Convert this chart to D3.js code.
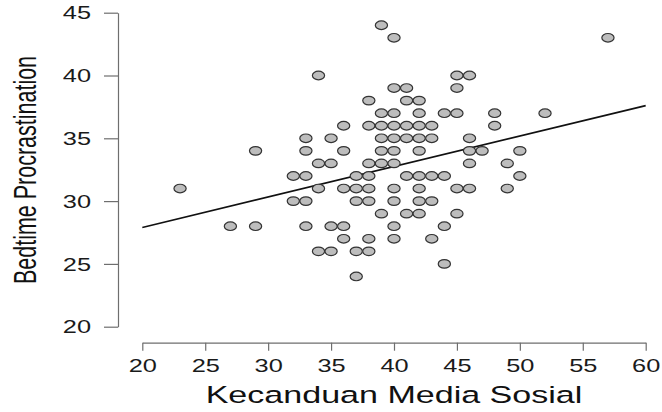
<!DOCTYPE html>
<html>
<head>
<meta charset="utf-8">
<script src="https://cdn.jsdelivr.net/npm/d3@7"></script>
<style>
  html, body { margin: 0; padding: 0; background: #ffffff; }
  svg { display: block; }
  text { font-family: "Liberation Sans", Arial, Helvetica, sans-serif; }
</style>
</head>
<body>
<svg id="chart" width="662" height="412"></svg>
<script>
// ---- data ----
const kecanduan = [
  39,
  40, 57,
  34, 45, 46,
  40, 41, 45,
  38, 41, 42,
  39, 40, 42, 44, 45, 48, 52,
  36, 38, 39, 40, 41, 42, 43, 48,
  33, 35, 39, 40, 41, 42, 43, 46,
  29, 33, 36, 39, 40, 42, 46, 47, 50,
  34, 35, 38, 39, 40, 46, 49,
  32, 33, 37, 38, 41, 42, 43, 44, 50,
  23, 34, 36, 37, 38, 40, 42, 45, 46, 49,
  32, 33, 37, 38, 40, 42, 43,
  39, 41, 42, 45,
  27, 29, 33, 35, 36, 40, 44,
  36, 38, 40, 43,
  34, 35, 37, 38,
  44,
  37
];
const bedtime = [
  44,
  43, 43,
  40, 40, 40,
  39, 39, 39,
  38, 38, 38,
  37, 37, 37, 37, 37, 37, 37,
  36, 36, 36, 36, 36, 36, 36, 36,
  35, 35, 35, 35, 35, 35, 35, 35,
  34, 34, 34, 34, 34, 34, 34, 34, 34,
  33, 33, 33, 33, 33, 33, 33,
  32, 32, 32, 32, 32, 32, 32, 32, 32,
  31, 31, 31, 31, 31, 31, 31, 31, 31, 31,
  30, 30, 30, 30, 30, 30, 30,
  29, 29, 29, 29,
  28, 28, 28, 28, 28, 28, 28,
  27, 27, 27, 27,
  26, 26, 26, 26,
  25,
  24
];
const fitX = [20, 60];
const fitY = [27.9, 37.6];
const xTicks = [20, 25, 30, 35, 40, 45, 50, 55, 60];
const yTicks = [20, 25, 30, 35, 40, 45];
const xTitle = "Kecanduan Media Sosial";
const yTitle = "Bedtime Procrastination";

// ---- drawing ----
const SX = 1.45; // horizontal stretch seen in the reference text/markers
const svg = d3.select("#chart");
const x = d3.scaleLinear().domain([20, 60]).range([142.3, 645.7]);
const y = d3.scaleLinear().domain([20, 45]).range([326.7, 12.7]);

const axisColor = "#6e6e6e";
const FONT = '"Liberation Sans", Arial, Helvetica, sans-serif';

// x axis
const gx = svg.append("g").attr("transform", "translate(0,342.7)")
  .call(d3.axisBottom(x).tickValues(xTicks).tickSizeOuter(0).tickSizeInner(8).tickFormat(d3.format("d")));
gx.select(".domain").attr("stroke", axisColor).attr("stroke-width", 1.2);
gx.selectAll(".tick line").attr("stroke", axisColor).attr("stroke-width", 1.2);
gx.selectAll(".tick text")
  .attr("y", 0).attr("dy", 0)
  .attr("transform", `translate(0,29.5) scale(${SX},1)`)
  .attr("font-size", 17.5).attr("fill", "#1a1a1a");

// y axis
const gy = svg.append("g").attr("transform", "translate(118,0)")
  .call(d3.axisLeft(y).tickValues(yTicks).tickSizeOuter(0).tickSizeInner(14).tickFormat(d3.format("d")));
gy.select(".domain").attr("stroke", axisColor).attr("stroke-width", 1.2);
gy.selectAll(".tick line").attr("stroke", axisColor).attr("stroke-width", 1.2);
gy.selectAll(".tick text")
  .attr("x", 0).attr("dy", "0.35em")
  .attr("transform", `translate(-27,0) scale(${SX},1)`)
  .attr("font-size", 17.5).attr("fill", "#1a1a1a");
svg.selectAll(".tick text").attr("font-family", FONT);

// regression line
const pts = fitX.map((d, i) => [d, fitY[i]]);
svg.append("path")
  .attr("d", d3.line().x(d => x(d[0])).y(d => y(d[1]))(pts))
  .attr("fill", "none").attr("stroke", "#111").attr("stroke-width", 1.7);

// points
const data = kecanduan.map((d, i) => ({ x: d, y: bedtime[i] }));
svg.append("g").selectAll("ellipse").data(data).join("ellipse")
  .attr("cx", d => x(d.x)).attr("cy", d => y(d.y))
  .attr("rx", 6.1).attr("ry", 4.3)
  .attr("fill", "#bdbdbd").attr("stroke", "#333").attr("stroke-width", 1.2);

// axis titles
svg.append("text")
  .attr("transform", `translate(394,403) scale(${SX},1)`)
  .attr("text-anchor", "middle").attr("font-size", 23.5).attr("fill", "#111")
  .text(xTitle);
svg.append("text")
  .attr("transform", `translate(36,170) scale(${SX},1) rotate(-90)`)
  .attr("text-anchor", "middle").attr("font-size", 21.5).attr("fill", "#111")
  .text(yTitle);
</script>
</body>
</html>
